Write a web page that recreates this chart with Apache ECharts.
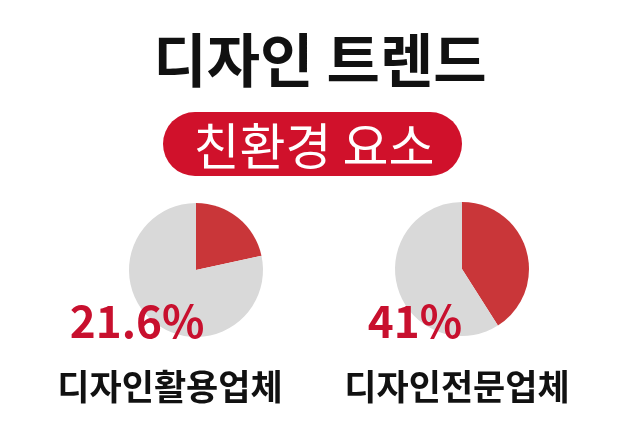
<!DOCTYPE html>
<html>
<head>
<meta charset="utf-8">
<script src="https://cdn.jsdelivr.net/npm/echarts@6/dist/echarts.min.js"></script>
<style>
html,body{margin:0;padding:0;background:#fff;}
#c{width:639px;height:438px;}
</style>
</head>
<body>
<div id="c"></div>
<script>
var titleText = '디자인 트렌드';
var subtitleText = '친환경 요소';
var categories = ['디자인활용업체', '디자인전문업체'];
var ecoValues = [21.6, 41];
var percentLabels = ['21.6%', '41%'];

var FONT = '"Noto Sans CJK KR", "Noto Sans", sans-serif';
var chart = echarts.init(document.getElementById('c'), null, {renderer: 'canvas'});

var centers = [[196, 270], [462, 269]];
var labelPos = [[137, 321], [415, 321]];
var catPos = [[170, 387], [457, 387]];

var series = categories.map(function (name, i) {
  return {
    type: 'pie',
    name: name,
    center: centers[i],
    radius: 67,
    startAngle: 90,
    clockwise: true,
    silent: true,
    animation: false,
    label: {show: false},
    labelLine: {show: false},
    itemStyle: {borderWidth: 0},
    data: [
      {name: '친환경', value: ecoValues[i], itemStyle: {color: '#c93639'}},
      {name: '기타', value: 100 - ecoValues[i], itemStyle: {color: '#d9d9d9'}}
    ]
  };
});

var graphics = [
  {type: 'text', x: 320, y: 60, z: 10,
   style: {text: titleText, font: 'bold 58px ' + FONT, fill: '#111', align: 'center', verticalAlign: 'middle'}},
  {type: 'rect', shape: {x: 163, y: 112, width: 299, height: 64, r: 32}, z: 5,
   style: {fill: '#d0112b'}},
  {type: 'text', x: 314, y: 146, z: 10,
   style: {text: subtitleText, font: '50px ' + FONT, fill: '#fff', align: 'center', verticalAlign: 'middle'}}
];
categories.forEach(function (name, i) {
  graphics.push({type: 'text', x: labelPos[i][0], y: labelPos[i][1], z: 20,
    style: {text: percentLabels[i], font: 'bold 44px ' + FONT, fill: '#c8102e', align: 'center', verticalAlign: 'middle'}});
  graphics.push({type: 'text', x: catPos[i][0], y: catPos[i][1], z: 20,
    style: {text: name, font: 'bold 35px ' + FONT, fill: '#111', align: 'center', verticalAlign: 'middle'}});
});

chart.setOption({
  backgroundColor: '#ffffff',
  animation: false,
  series: series,
  graphic: graphics
});
</script>
</body>
</html>
